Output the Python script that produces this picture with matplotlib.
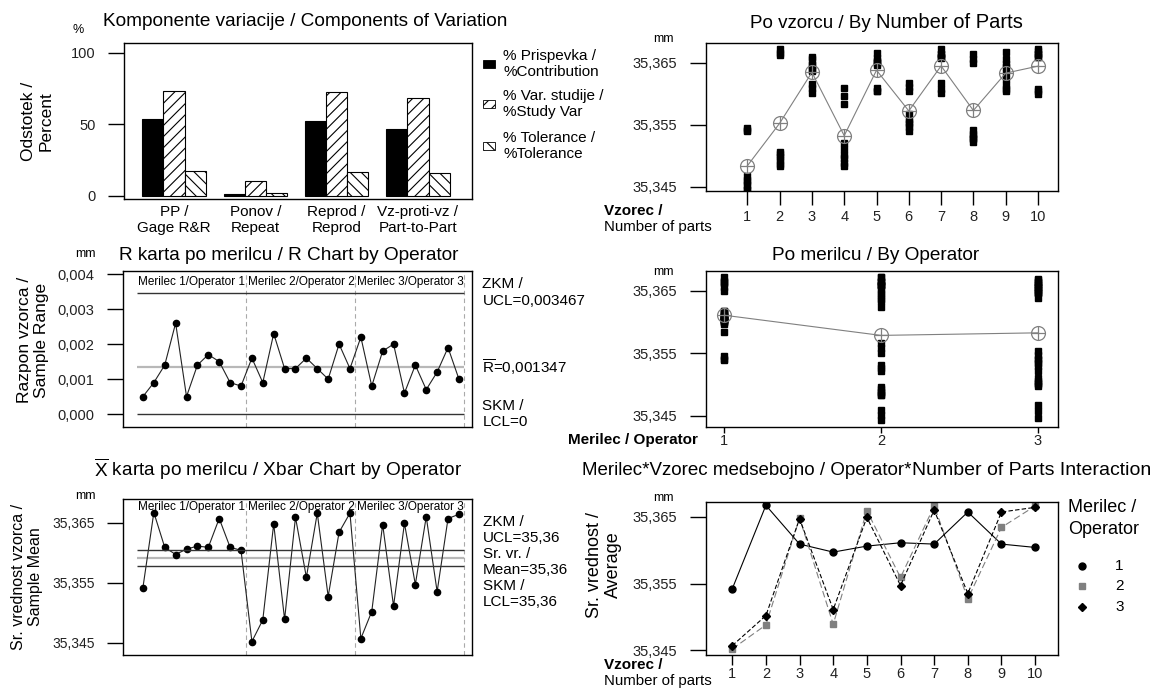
import numpy as np
import matplotlib
matplotlib.use("Agg")
import matplotlib.pyplot as plt
from matplotlib.patches import Rectangle
from matplotlib.lines import Line2D
from matplotlib.ticker import FuncFormatter

plt.rcParams['font.family'] = ['Liberation Sans', 'DejaVu Sans']
plt.rcParams['mathtext.fontset'] = 'custom'
plt.rcParams['mathtext.rm'] = 'Liberation Sans'
plt.rcParams['hatch.linewidth'] = 0.8

# komponente variacije (odčitano z grafa)
komponente = ['PP /\nGage R&R', 'Ponov /\nRepeat', 'Reprod /\nReprod', 'Vz-proti-vz /\nPart-to-Part']
pct_prispevek = [53.5, 1.1, 52.3, 46.5]
pct_studija = [73.1, 10.4, 72.3, 68.2]
pct_toleranca = [17.1, 2.4, 16.6, 15.9]
legenda = ['% Prispevka /\n%Contribution', '% Var. studije /\n%Study Var', '% Tolerance /\n%Tolerance']

vzorci = [1, 2, 3, 4, 5, 6, 7, 8, 9, 10]
merilci = [1, 2, 3]

# meritve v mm: vrstica = vzorec, 3 ponovitve
merilec1 = [[35.3540, 35.3541, 35.3545], [35.3663, 35.3666, 35.3672], [35.3602, 35.3609, 35.3616],
            [35.3584, 35.3597, 35.3610], [35.3604, 35.3605, 35.3609], [35.3604, 35.3611, 35.3618],
            [35.3601, 35.3608, 35.3618], [35.3650, 35.3656, 35.3665], [35.3605, 35.3608, 35.3614],
            [35.3600, 35.3604, 35.3608]]
merilec2 = [[35.3444, 35.3452, 35.3460], [35.3484, 35.3487, 35.3493], [35.3637, 35.3647, 35.3660],
            [35.3483, 35.3488, 35.3496], [35.3653, 35.3658, 35.3666], [35.3551, 35.3559, 35.3567],
            [35.3660, 35.3665, 35.3673], [35.3522, 35.3527, 35.3532], [35.3624, 35.3634, 35.3644],
            [35.3660, 35.3665, 35.3673]]
merilec3 = [[35.3446, 35.3457, 35.3468], [35.3498, 35.3502, 35.3506], [35.3638, 35.3647, 35.3656],
            [35.3501, 35.3511, 35.3521], [35.3646, 35.3649, 35.3652], [35.3540, 35.3547, 35.3554],
            [35.3657, 35.3659, 35.3664], [35.3529, 35.3535, 35.3541], [35.3648, 35.3656, 35.3667],
            [35.3659, 35.3664, 35.3669]]

glave = ['Merilec 1/Operator 1', 'Merilec 2/Operator 2', 'Merilec 3/Operator 3']
meje_r = ['ZKM /\nUCL=0,003467', r'$\overline{\mathrm{R}}$=0,001347', 'SKM /\nLCL=0']
meje_x = 'ZKM /\nUCL=35,36\nSr. vr. /\nMean=35,36\nSKM /\nLCL=35,36'

# izračuni
meritve = np.array([merilec1, merilec2, merilec3])      # (merilec, vzorec, ponovitev)
povp = meritve.mean(axis=2)
razpon = meritve.max(axis=2) - meritve.min(axis=2)
r_bar = razpon.mean()
x_bar = povp.mean()
ucl_r = 2.574 * r_bar
ucl_x = x_bar + 1.023 * r_bar
lcl_x = x_bar - 1.023 * r_bar
idx = np.arange(1, 31)

W, H = 1158, 688
fig = plt.figure(figsize=(W / 100, H / 100), dpi=100)
fig.patch.set_facecolor('white')

GRAY = '#808080'
mm_fmt = FuncFormatter(lambda v, p: f'{v:.3f}'.replace('.', ','))


def box(l, t, r, b):
    ax = fig.add_axes([l / W, 1 - b / H, (r - l) / W, (b - t) / H])
    for sp in ax.spines.values():
        sp.set_linewidth(1.0)
    ax.tick_params(axis='y', direction='out', length=11.5, width=1, pad=9,
                   labelsize=10.5, labelcolor='#222222')
    return ax


def ftext(x, y, s, **kw):
    kw.setdefault('va', 'center')
    return fig.text(x / W, 1 - y / H, s, **kw)


def oplus(ax, x, y):
    ax.plot(x, y, color=GRAY, lw=0.8, zorder=3)
    ax.plot(x, y, 'o', mfc='none', mec=GRAY, ms=10, mew=0.9, zorder=4)
    ax.plot(x, y, '+', color=GRAY, ms=10, mew=0.9, zorder=4)


# --- Komponente variacije ---
ax1 = box(124, 43, 472, 199)
x = np.arange(len(komponente))
w = 0.26
ax1.bar(x - w, pct_prispevek, w, color='black', edgecolor='black', lw=0.8)
ax1.bar(x, pct_studija, w, facecolor='white', edgecolor='black', hatch='///', lw=0.8)
ax1.bar(x + w, pct_toleranca, w, facecolor='white', edgecolor='black', hatch='\\\\\\', lw=0.8)
ax1.set_xlim(-0.615, 3.665)
ax1.set_ylim(-2.1, 106.8)
ax1.set_yticks([0, 50, 100])
ax1.set_xticks(x, komponente, fontsize=11)
ax1.tick_params(axis='x', length=0, pad=4)
ftext(305, 22, 'Komponente variacije / Components of Variation', ha='center', fontsize=13.7)
ftext(78, 30, '%', ha='center', fontsize=9)
ftext(37, 121, 'Odstotek /\nPercent', rotation=90, ha='center', fontsize=12.5, linespacing=1.2)
for yc, lab, fc, ht in zip([64, 104, 146], legenda, ['black', 'white', 'white'], [None, '///', '\\\\\\']):
    fig.patches.append(Rectangle((483 / W, 1 - (yc + 4) / H), 12 / W, 8 / H, transform=fig.transFigure,
                                 facecolor=fc, edgecolor='black', hatch=ht, lw=0.6))
    ftext(503, yc, lab, ha='left', fontsize=11, linespacing=1.15)

# --- Po vzorcu ---
ax2 = box(706, 43, 1058, 191)
for i, v in enumerate(vzorci):
    ax2.plot(np.full(9, v), meritve[:, i, :].ravel(), 's', color='black', ms=3.8, zorder=2)
oplus(ax2, vzorci, meritve.mean(axis=(0, 2)))
ax2.set_xlim(-0.28, 10.62)
ax2.set_ylim(35.3443, 35.3682)
ax2.set_yticks([35.345, 35.355, 35.365])
ax2.yaxis.set_major_formatter(mm_fmt)
ax2.set_xticks(vzorci)
ax2.tick_params(axis='x', length=10, width=1, pad=4, labelsize=10.5, labelcolor='#222222')
ftext(876, 28, 'Po vzorcu / By ', ha='right', va='baseline', fontsize=13.5)
ftext(876, 28, 'Number of Parts', ha='left', va='baseline', fontsize=14.5)
ftext(674, 39, 'mm', ha='right', fontsize=9)
ftext(604, 211, 'Vzorec /', ha='left', fontsize=11, fontweight='bold')
ftext(604, 227, 'Number of parts', ha='left', fontsize=10.8)

# --- R karta ---
ax3 = box(123, 271, 472, 427)
ax3.plot(idx, razpon.ravel(), '-o', color='#222222', lw=0.8, ms=4.5, mfc='black', mec='black')
ax3.hlines([ucl_r, 0], 0.5, 30.5, color='#333333', lw=1)
ax3.hlines(r_bar, 0.5, 30.5, color='#b8b8b8', lw=1.6, zorder=0)
for xv in [10.5, 20.5, 30.5]:
    ax3.axvline(xv, color='#aaaaaa', ls=(0, (4, 3)), lw=0.8, zorder=0)
for k, g in enumerate(glave):
    ax3.text(5.5 + 10 * k, 0.93, g, transform=ax3.get_xaxis_transform(), ha='center', va='center', fontsize=8.5)
ax3.set_xlim(-0.83, 31.2)
ax3.set_ylim(-0.00037, 0.00409)
ax3.set_yticks([0, 0.001, 0.002, 0.003, 0.004])
ax3.yaxis.set_major_formatter(mm_fmt)
ax3.set_xticks([])
for yv, lab in zip([ucl_r, r_bar, 0], meje_r):
    ax3.text(1.03, yv, lab, transform=ax3.get_yaxis_transform(), ha='left', va='center',
             fontsize=11, linespacing=1.25)
ftext(289, 255, 'R karta po merilcu / R Chart by Operator', ha='center', fontsize=13.7)
ftext(96, 254, 'mm', ha='right', fontsize=9)
ftext(33, 340, 'Razpon vzorca /\nSample Range', rotation=90, ha='center', fontsize=12.5, linespacing=1.15)

# --- Po merilcu ---
ax4 = box(706, 271, 1058, 427)
for j, m in enumerate(merilci):
    ax4.plot(np.full(30, m), meritve[j].ravel(), 's', color='black', ms=3.8, zorder=2)
oplus(ax4, merilci, meritve.mean(axis=(1, 2)))
ax4.set_xlim(0.883, 3.13)
ax4.set_ylim(35.3432, 35.3682)
ax4.set_yticks([35.345, 35.355, 35.365])
ax4.yaxis.set_major_formatter(mm_fmt)
ax4.set_xticks(merilci)
ax4.tick_params(axis='x', length=4, width=1, pad=1, labelsize=10.5, labelcolor='#222222')
ftext(876, 255, 'Po merilcu / By Operator', ha='center', fontsize=13.7)
ftext(674, 272, 'mm', ha='right', fontsize=9)
ftext(568, 440, 'Merilec / Operator', ha='left', fontsize=11, fontweight='bold')

# --- Xbar karta ---
ax5 = box(123, 499, 472, 655)
ax5.plot(idx, povp.ravel(), '-o', color='#222222', lw=0.8, ms=4.5, mfc='black', mec='black')
ax5.hlines([ucl_x, lcl_x], 0.5, 30.5, color='#333333', lw=1)
ax5.hlines(x_bar, 0.5, 30.5, color='#b8b8b8', lw=1.6, zorder=0)
for xv in [10.5, 20.5, 30.5]:
    ax5.axvline(xv, color='#aaaaaa', ls=(0, (4, 3)), lw=0.8, zorder=0)
for k, g in enumerate(glave):
    ax5.text(5.5 + 10 * k, 0.95, g, transform=ax5.get_xaxis_transform(), ha='center', va='center', fontsize=8.5)
ax5.set_xlim(-0.83, 31.2)
ax5.set_ylim(35.34295, 35.36895)
ax5.set_yticks([35.345, 35.355, 35.365])
ax5.yaxis.set_major_formatter(mm_fmt)
ax5.tick_params(axis='y', labelsize=10)
ax5.set_xticks([])
ftext(483, 562, meje_x, ha='left', fontsize=11, linespacing=1.2)
ftext(278, 469, r'$\overline{\mathrm{X}}$ karta po merilcu / Xbar Chart by Operator', ha='center', fontsize=13.7)
ftext(96, 496, 'mm', ha='right', fontsize=9)
ftext(27, 577, 'Sr. vrednost vzorca /\nSample Mean', rotation=90, ha='center', fontsize=11.5, linespacing=1.1)

# --- Interakcija ---
ax6 = box(706, 502, 1058, 655)
slogi = [dict(color='black', ls='-', marker='o', ms=5),
         dict(color=GRAY, ls=(0, (6, 3)), marker='s', ms=5),
         dict(color='black', ls=(0, (4, 2)), marker='D', ms=4.5)]
for j in range(3):
    ax6.plot(vzorci, povp[j], lw=0.8, **slogi[j])
ax6.set_xlim(0.22, 10.68)
ax6.set_ylim(35.3443, 35.3672)
ax6.set_yticks([35.345, 35.355, 35.365])
ax6.yaxis.set_major_formatter(mm_fmt)
ax6.set_xticks(vzorci)
ax6.tick_params(axis='x', length=7, width=1, pad=2, labelsize=10.5, labelcolor='#222222')
ftext(912, 475, 'Merilec*Vzorec medsebojno / Operator*', ha='right', va='baseline', fontsize=13.5)
ftext(912, 475, 'Number of Parts Interaction', ha='left', va='baseline', fontsize=14)
ftext(674, 498, 'mm', ha='right', fontsize=9)
ftext(604, 565, 'Sr. vrednost /\nAverage', rotation=90, ha='center', fontsize=13, linespacing=1.2)
ftext(604, 665, 'Vzorec /', ha='left', fontsize=11, fontweight='bold')
ftext(604, 681, 'Number of parts', ha='left', fontsize=10.8)
ftext(1068, 507, 'Merilec /', ha='left', fontsize=13)
ftext(1068, 529, 'Operator', ha='left', fontsize=13)
for j, yc in enumerate([566, 586, 607]):
    st = slogi[j]
    fig.add_artist(Line2D([1082 / W], [1 - yc / H], transform=fig.transFigure, ls='none',
                          marker=st['marker'], ms=st['ms'], color=st['color']))
    ftext(1115, yc, str(merilci[j]), ha='left', fontsize=11)

fig.savefig('out.png', dpi=100)
